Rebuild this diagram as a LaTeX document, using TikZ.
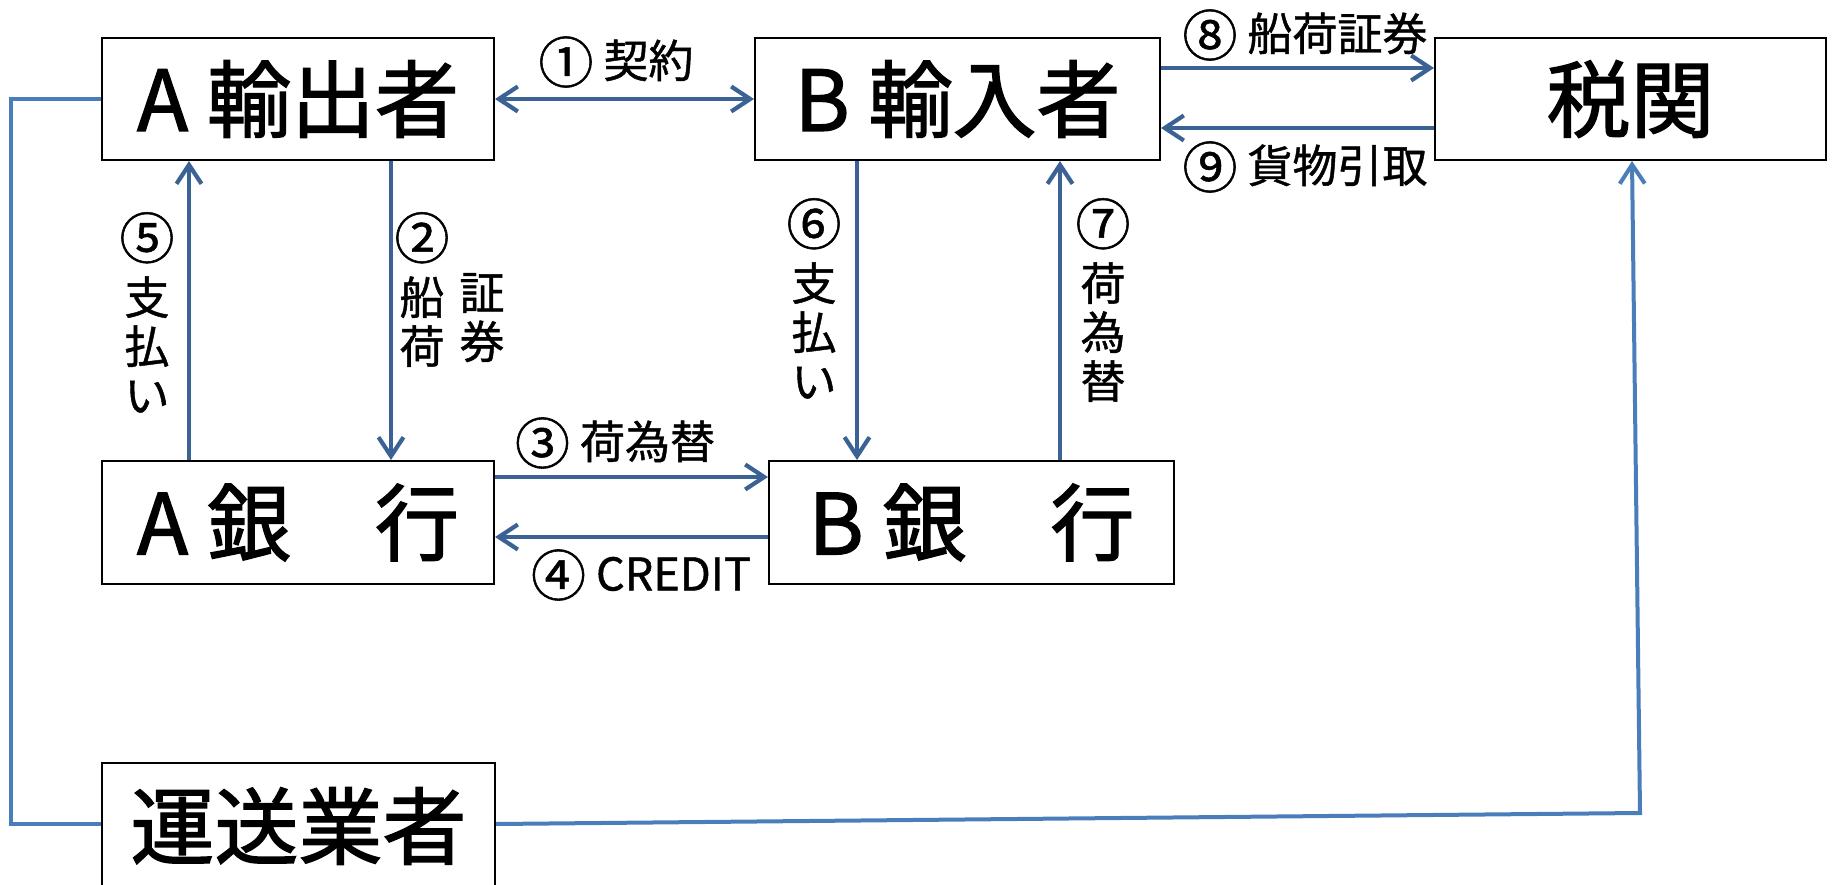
\documentclass[tikz,border=0pt]{standalone}
\usepackage{fontspec}
\newfontfamily\jp[FakeBold=1.6]{Noto Sans CJK JP}
\newfontfamily\jpl[FakeBold=1.0]{Noto Sans CJK JP}
\usetikzlibrary{arrows.meta}
\definecolor{arrc}{RGB}{58,98,148}
\definecolor{linec}{RGB}{74,126,187}
\newcommand\cnum[1]{\raisebox{-0.12em}{\scalebox{1.22}{#1}}}
\tikzset{
  box/.style={draw=black, line width=2pt, fill=white, inner sep=0pt, font=\jp\fontsize{84}{84}\selectfont},
  arr/.style={draw=arrc, line width=4.2pt, -{Straight Barb[length=19pt,width=25pt,line width=4.2pt]}},
  darr/.style={draw=arrc, line width=4.2pt, {Straight Barb[length=19pt,width=25pt,line width=4.2pt]}-{Straight Barb[length=19pt,width=25pt,line width=4.2pt]}},
  link/.style={draw=linec, line width=4pt},
  lab/.style={inner sep=0pt, align=center, font=\jpl\fontsize{45}{49}\selectfont}
}
\begin{document}
\begin{tikzpicture}[x=1pt,y=-1pt]
\useasboundingbox (0,0) rectangle (1835,885);
\clip (0,0) rectangle (1835,885);
\fill[white] (0,0) rectangle (1835,885);
% boxes
\node[box, minimum width=392, minimum height=122] (aexp) at (298,99) {A 輸出者};
\node[box, minimum width=405, minimum height=122] (bimp) at (957.5,99) {B 輸入者};
\node[box, minimum width=391, minimum height=122] (tax) at (1630.5,99) {税関};
\node[box, minimum width=392, minimum height=123] (abank) at (298,522.5) {A 銀\hspace{1em}行};
\node[box, minimum width=405, minimum height=123] (bbank) at (971.5,522.5) {B 銀\hspace{1em}行};
\node[box, minimum width=393, minimum height=126] (carrier) at (298.5,826) {運送業者};
% arrows
\draw[darr] (aexp.east) -- (bimp.west);
\draw[arr] ([xshift=93]aexp.south) -- ([xshift=93]abank.north);
\draw[arr] ([xshift=-109]abank.north) -- ([xshift=-109]aexp.south);
\draw[arr] ([xshift=-100.5]bimp.south) -- ([xshift=-114.5]bbank.north);
\draw[arr] ([xshift=88.5]bbank.north) -- ([xshift=102.5]bimp.south);
\draw[arr] ([yshift=31]bimp.east) -- ([yshift=31]tax.west);
\draw[arr] ([yshift=-29]tax.west) -- ([yshift=-29]bimp.east);
\draw[arr] ([yshift=45.5]abank.east) -- ([yshift=45.5]bbank.west);
\draw[arr] ([yshift=-14.5]bbank.west) -- ([yshift=-14.5]abank.east);
% carrier links
\coordinate (l1) at (11,99);
\coordinate (l2) at (11,824);
\coordinate (r1) at (1640,813);
\draw[link] (aexp.west) -- (l1) -- (l2) -- ([yshift=2]carrier.west);
\draw[link, -{Straight Barb[length=19pt,width=25pt,line width=4pt]}] ([yshift=2]carrier.east) -- (r1) -- ([xshift=1.5]tax.south);
% labels
\node[lab] (t1) at (616,62) {\cnum{①} 契約};
\node[lab] (t8) at (1305,35) {\cnum{⑧} 船荷証券};
\node[lab] (t9) at (1305,167) {\cnum{⑨} 貨物引取};
\node[lab] (t3) at (615,443) {\cnum{③} 荷為替};
\node[lab] (t4) at (641,575) {\cnum{④} CREDIT};
\node[lab, anchor=north] (t5) at (147,212) {\cnum{⑤}\\[12pt]支\\払\\い};
\node[lab, anchor=north] (t2) at (422,212) {\cnum{②}\\[12pt]船\\荷};
\node[lab, anchor=north] (t2b) at (482,273) {証\\券};
\node[lab, anchor=north] (t6) at (814,198) {\cnum{⑥}\\[12pt]支\\払\\い};
\node[lab, anchor=north] (t7) at (1103,198) {\cnum{⑦}\\[12pt]荷\\為\\替};
\end{tikzpicture}
\end{document}
